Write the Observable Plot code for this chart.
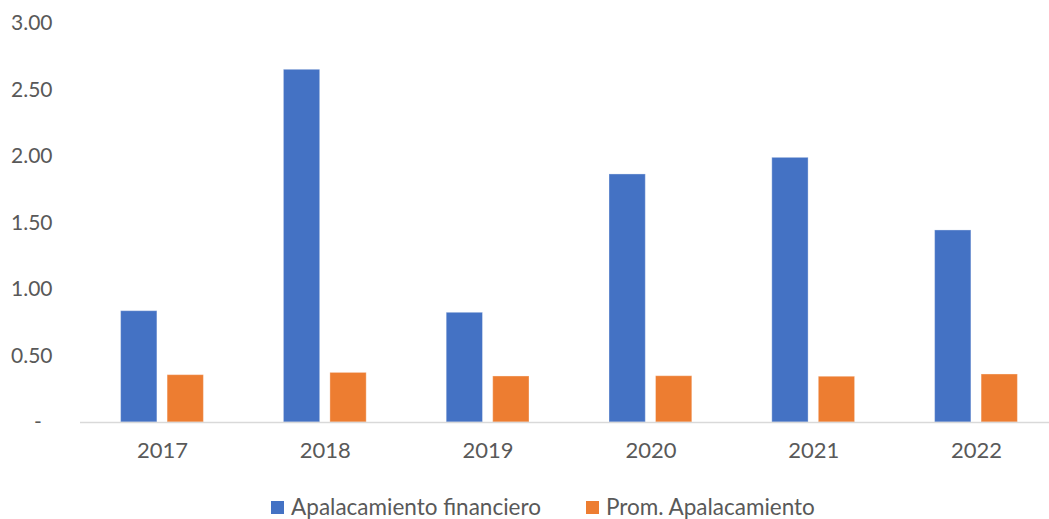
<!DOCTYPE html>
<html>
<head>
<meta charset="utf-8">
<script src="https://cdn.jsdelivr.net/npm/d3@7"></script>
<script src="https://cdn.jsdelivr.net/npm/@observablehq/plot@0.6"></script>
<style>
  html, body { margin: 0; padding: 0; background: #fff; }
  #chart { width: 1049px; height: 519px; position: relative; overflow: hidden; font-family: Lato, "Open Sans", sans-serif; }
  .legend { position: absolute; left: 0; top: 494px; width: 1049px; display: flex; justify-content: center; padding-left: 37px; box-sizing: border-box; font-size: 22.5px; color: #595959; font-family: Lato, sans-serif; line-height: 26px; }
  .legend span.item { display: inline-flex; align-items: center; margin: 0 22.5px; }
  .legend span.sw { width: 13px; height: 13px; display: inline-block; margin-right: 7px; }
</style>
</head>
<body>
<div id="chart"></div>
<script>
const years = ["2017", "2018", "2019", "2020", "2021", "2022"];
const apalancamiento = [0.837, 2.652, 0.825, 1.865, 1.99, 1.444];
const promedio = [0.356, 0.373, 0.346, 0.348, 0.344, 0.361];
const seriesNames = ["Apalacamiento financiero", "Prom. Apalacamiento"];
const yTicks = [0, 0.5, 1, 1.5, 2, 2.5, 3];

const colors = ["#4472C4", "#ED7D31"];
const rowsA = years.map((y, i) => ({year: y, value: apalancamiento[i]}));
const rowsB = years.map((y, i) => ({year: y, value: promedio[i]}));

const plot = Plot.plot({
  width: 1049,
  height: 475,
  marginTop: 23,
  marginBottom: 53,
  marginLeft: 80,
  marginRight: 0,
  style: {fontFamily: "Lato, sans-serif", fontSize: "21px", color: "#595959", background: "#fff"},
  x: {type: "band", domain: years, range: [80.6, 1057.4], padding: 0, round: false, label: null},
  y: {domain: [0, 3], label: null},
  marks: [
    Plot.barY(rowsA, {x: "year", y: "value", fill: colors[0], insetLeft: 40, insetRight: 86.5, stroke: "#ffffff", strokeOpacity: 0.35, strokeWidth: 1}),
    Plot.barY(rowsB, {x: "year", y: "value", fill: colors[1], insetLeft: 86.5, insetRight: 40, stroke: "#ffffff", strokeOpacity: 0.35, strokeWidth: 1}),
    Plot.ruleY([0], {stroke: "#d9d9d9", strokeWidth: 1.5}),
    Plot.axisX({tickSize: 0, tickPadding: 20, fill: "#595959", fontSize: 22}),
    Plot.axisY({ticks: yTicks, tickSize: 0, tickPadding: 28, fill: "#595959", fontSize: 21,
      tickFormat: d => d === 0 ? "-\u00a0\u00a0" : d.toFixed(2)})
  ]
});
document.getElementById("chart").appendChild(plot);

const legend = document.createElement("div");
legend.className = "legend";
seriesNames.forEach((n, i) => {
  const item = document.createElement("span");
  item.className = "item";
  const sw = document.createElement("span");
  sw.className = "sw";
  sw.style.background = colors[i];
  item.appendChild(sw);
  item.appendChild(document.createTextNode(n));
  legend.appendChild(item);
});
document.getElementById("chart").appendChild(legend);
</script>
</body>
</html>
